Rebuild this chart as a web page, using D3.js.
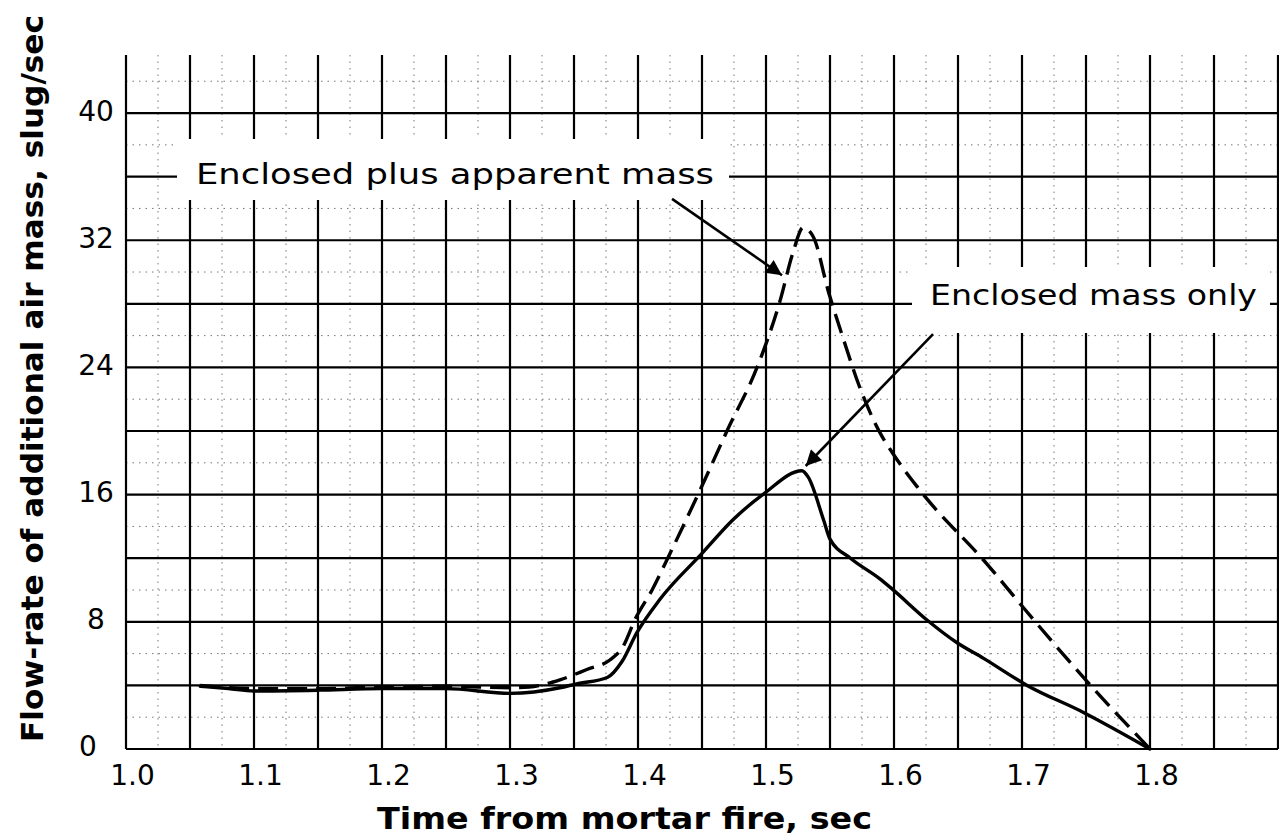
<!DOCTYPE html>
<html>
<head>
<meta charset="utf-8">
<script src="https://cdn.jsdelivr.net/npm/d3@7"></script>
<style>
  html, body { margin: 0; padding: 0; background: #fff; }
  svg { display: block; }
  text { font-family: "DejaVu Sans", "Noto Sans", sans-serif; fill: #000; }
</style>
</head>
<body>
<svg id="chart" width="1279" height="837"></svg>
<script>
// Flow-rate of additional air mass after mortar fire
const enclosedTime = [1.058, 1.08, 1.10, 1.15, 1.20, 1.25, 1.30, 1.339, 1.352, 1.376, 1.3875, 1.399, 1.417, 1.45, 1.474, 1.499, 1.528, 1.533, 1.545, 1.55, 1.566, 1.589, 1.598, 1.626, 1.649, 1.670, 1.704, 1.748, 1.80];
const enclosedRate = [3.95, 3.8, 3.65, 3.7, 3.8, 3.8, 3.5, 3.85, 4.1, 4.5, 5.5, 7.3, 9.4, 12.3, 14.4, 16.1, 17.5, 17.1, 14.4, 13.2, 12.0, 10.7, 10.1, 8.1, 6.7, 5.7, 4.0, 2.3, 0];

const apparentTime = [1.058, 1.10, 1.15, 1.20, 1.25, 1.30, 1.315, 1.339, 1.36, 1.378, 1.388, 1.398, 1.411, 1.425, 1.448, 1.4695, 1.494, 1.511, 1.521, 1.529, 1.537, 1.549, 1.560, 1.573, 1.589, 1.599, 1.620, 1.673, 1.701, 1.748, 1.80];
const apparentRate = [4.0, 3.8, 3.8, 3.9, 3.95, 3.85, 3.9, 4.35, 5.0, 5.6, 6.4, 8.2, 10.0, 12.3, 16.2, 20.0, 24.2, 28.2, 31.2, 32.8, 32.2, 28.7, 25.9, 22.8, 19.9, 18.6, 16.3, 11.6, 8.9, 4.5, 0];

const xTickValues = [1.0, 1.1, 1.2, 1.3, 1.4, 1.5, 1.6, 1.7, 1.8];
const xTickLabels = ["1.0", "1.1", "1.2", "1.3", "1.4", "1.5", "1.6", "1.7", "1.8"];
const yTickValues = [0, 8, 16, 24, 32, 40];
const yTickLabels = ["0", "8", "16", "24", "32", "40"];

const xTitle = "Time from mortar fire, sec";
const yTitle = "Flow-rate of additional air mass, slug/sec";
const labelApparent = "Enclosed plus apparent mass";
const labelEnclosed = "Enclosed mass only";
// arrow [tail time, tail rate, head time, head rate]
const arrowApparent = [1.4266, 34.6, 1.5125, 29.8];
const arrowEnclosed = [1.6305, 26.1, 1.531, 17.8];

const svg = d3.select("#chart");
const plotLeft = 126, plotRight = 1278, plotTop = 55, plotBottom = 749;

const x = d3.scaleLinear().domain([1.0, 1.9]).range([plotLeft, plotRight]);
const y = d3.scaleLinear().domain([0, 43.65]).range([plotBottom, plotTop]);

// fine dotted grid
const grid = svg.append("g");
d3.range(0, 18).forEach(i => {
  const v = 1.025 + i * 0.05;
  grid.append("line").attr("x1", x(v)).attr("x2", x(v)).attr("y1", plotTop).attr("y2", plotBottom)
    .attr("stroke", "#777").attr("stroke-width", 1).attr("stroke-dasharray", "1.5,5");
});
d3.range(2, 43, 4).forEach(v => {
  grid.append("line").attr("x1", plotLeft).attr("x2", plotRight).attr("y1", y(v)).attr("y2", y(v))
    .attr("stroke", "#777").attr("stroke-width", 1).attr("stroke-dasharray", "1.5,5");
});

// major grid
d3.range(0, 19).forEach(i => {
  const v = 1.0 + i * 0.05;
  grid.append("line").attr("x1", x(v)).attr("x2", x(v)).attr("y1", plotTop).attr("y2", plotBottom)
    .attr("stroke", "#000").attr("stroke-width", 2.2);
});
d3.range(0, 41, 4).forEach(v => {
  grid.append("line").attr("x1", plotLeft).attr("x2", plotRight).attr("y1", y(v)).attr("y2", y(v))
    .attr("stroke", "#000").attr("stroke-width", 2.2);
});

// white patches behind the curve labels
svg.append("rect").attr("x", 177).attr("y", 139).attr("width", 552).attr("height", 61).attr("fill", "#fff");
svg.append("rect").attr("x", 912).attr("y", 267).attr("width", 358).attr("height", 66).attr("fill", "#fff");

// tick labels
const xAxis = d3.axisBottom(x).tickValues(xTickValues)
  .tickFormat((d, i) => xTickLabels[i]).tickSize(0).tickPadding(16);
const gx = svg.append("g").attr("transform", `translate(6,${plotBottom})`).call(xAxis);
gx.select(".domain").remove();
gx.selectAll("text").attr("font-size", 28).attr("font-family", "DejaVu Sans");

const yAxis = d3.axisLeft(y).tickValues(yTickValues)
  .tickFormat((d, i) => yTickLabels[i]).tickSize(0).tickPadding(20);
const gy = svg.append("g").attr("transform", `translate(${plotLeft},-2)`).call(yAxis);
gy.select(".domain").remove();
gy.selectAll("text").attr("font-size", 28).attr("font-family", "DejaVu Sans").attr("text-anchor", "middle")
  .attr("x", d => d === 0 ? -38 : -30);

// curves
const line = d3.line().x(d => x(d[0])).y(d => y(d[1])).curve(d3.curveMonotoneX);
svg.append("path").datum(d3.zip(enclosedTime, enclosedRate)).attr("d", line)
  .attr("fill", "none").attr("stroke", "#000").attr("stroke-width", 3.4)
  .attr("stroke-linejoin", "round").attr("stroke-linecap", "round");
svg.append("path").datum(d3.zip(apparentTime, apparentRate)).attr("d", line)
  .attr("fill", "none").attr("stroke", "#000").attr("stroke-width", 3.4)
  .attr("stroke-dasharray", "20,9").attr("stroke-linejoin", "round");

// arrows
svg.append("defs").append("marker").attr("id", "head")
  .attr("viewBox", "0 0 10 10").attr("refX", 10).attr("refY", 5)
  .attr("markerWidth", 8).attr("markerHeight", 6).attr("markerUnits", "strokeWidth")
  .attr("orient", "auto")
  .append("path").attr("d", "M0,0 L10,5 L0,10 Z").attr("fill", "#000");
[arrowApparent, arrowEnclosed].forEach(a => {
  svg.append("line").attr("x1", x(a[0])).attr("y1", y(a[1])).attr("x2", x(a[2])).attr("y2", y(a[3]))
    .attr("stroke", "#000").attr("stroke-width", 2.6).attr("marker-end", "url(#head)");
});

// curve labels
svg.append("text").attr("x", 196).attr("y", 184).attr("font-size", 29)
  .attr("textLength", 518).attr("lengthAdjust", "spacingAndGlyphs").text(labelApparent);
svg.append("text").attr("x", 930).attr("y", 305).attr("font-size", 29)
  .attr("textLength", 327).attr("lengthAdjust", "spacingAndGlyphs").text(labelEnclosed);

// axis titles
svg.append("text").attr("x", 377).attr("y", 829).attr("font-size", 30).attr("font-weight", "bold")
  .attr("textLength", 495).attr("lengthAdjust", "spacingAndGlyphs").text(xTitle);
svg.append("text").attr("transform", "translate(43,742) rotate(-90)").attr("font-size", 31)
  .attr("font-weight", "bold").attr("textLength", 727).attr("lengthAdjust", "spacingAndGlyphs").text(yTitle);
</script>
</body>
</html>
